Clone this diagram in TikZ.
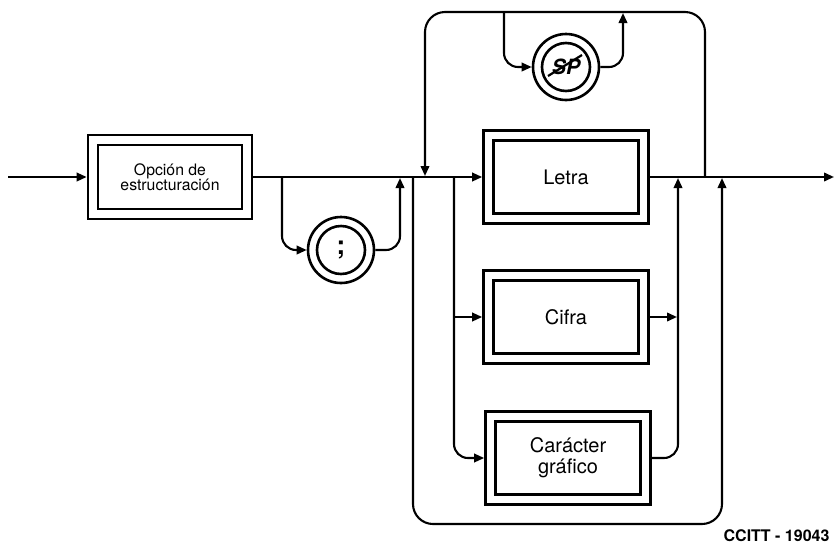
\documentclass[tikz,border=0pt]{standalone}
\usepackage{fontspec}
\setmainfont{TeX Gyre Heros}
\usetikzlibrary{arrows.meta}

\tikzset{
  wire/.style={line width=2.1pt, line join=round},
  flow/.style={wire, -{Triangle[length=10pt,width=8.5pt]}},
  dbox/.style={draw, line width=2.7pt, minimum width=165pt, minimum height=93pt,
    inner sep=0pt, align=center,
    path picture={\draw[line width=2.7pt]
      ([shift={(10pt,-10pt)}]path picture bounding box.north west) rectangle
      ([shift={(-10pt,10pt)}]path picture bounding box.south east);}},
  dcirc/.style={draw, circle, line width=2.6pt, minimum size=66pt, inner sep=0pt,
    path picture={\draw[line width=2.6pt] (path picture bounding box.center) circle (24pt);}},
  boxtext/.style={font=\fontsize{20}{21}\selectfont},
}

\begin{document}
\begin{tikzpicture}[x=1pt,y=-1pt]
\useasboundingbox (0,0) rectangle (836,547);

% syntax elements
\node[dbox, minimum width=164pt, minimum height=84pt,
      font=\fontsize{15.8}{15.5}\selectfont] (opt) at (170,177) {Opción de\\estructuración};
\node[dbox, boxtext] (letra) at (566,177) {Letra};
\node[dbox, boxtext] (cifra) at (566,317) {Cifra};
\node[dbox, boxtext] (carac) at (568,458) {Carácter\\gráfico};
\node[dcirc, font=\fontsize{26}{26}\selectfont\bfseries] (semi) at (341,250) {;};
\node[dcirc, font=\fontsize{21}{21}\selectfont\bfseries\itshape] (sp) at (566,67) {SP};
\draw[line width=2.2pt] ([shift={(-18pt,-9pt)}]sp.center) -- ([shift={(16pt,12pt)}]sp.center);

% junction points
\coordinate (in) at (8,177);
\coordinate (b1) at (282,177);
\coordinate (j1) at (400,178);
\coordinate (b2) at (413,177);
\coordinate (j2) at (425,176);
\coordinate (b3) at (454,177);
\coordinate (j3) at (678,178);
\coordinate (j4) at (722,178);
\coordinate (t1) at (705,177);
\coordinate (out) at (834,177);
\coordinate (lowR) at (722,524);
\coordinate (topL) at (425,12);
\coordinate (b4) at (504,12);
\coordinate (j5) at (623,13);

% main path
\draw[flow] (in) -- (opt);
\draw[flow] (opt) -- (letra);
\draw[flow] (letra) -- (out);

% optional semicolon
\draw[flow, rounded corners=14pt] (b1) |- (semi.west);
\draw[flow, rounded corners=14pt] (semi.east) -| (j1);

% repetition loop with optional SP
\draw[flow, rounded corners=20pt] (t1) |- (topL) -- (j2);
\draw[flow, rounded corners=14pt] (b4) |- (sp.west);
\draw[flow, rounded corners=14pt] (sp.east) -| (j5);

% alternatives
\draw[flow, rounded corners=14pt] (b3) |- (carac.west);
\draw[flow] (b3 |- cifra.west) -- (cifra.west);
\draw[flow] (cifra.east) -- ([xshift=-1pt]j3 |- cifra.east);
\draw[flow, rounded corners=14pt] (carac.east) -| (j3);

% bypass of the whole group
\draw[flow, rounded corners=20pt] (b2) |- (lowR) -- (j4);

\node[anchor=east, font=\fontsize{16}{16}\selectfont\bfseries] (ref) at (833,536) {CCITT - 19043};
\end{tikzpicture}
\end{document}
